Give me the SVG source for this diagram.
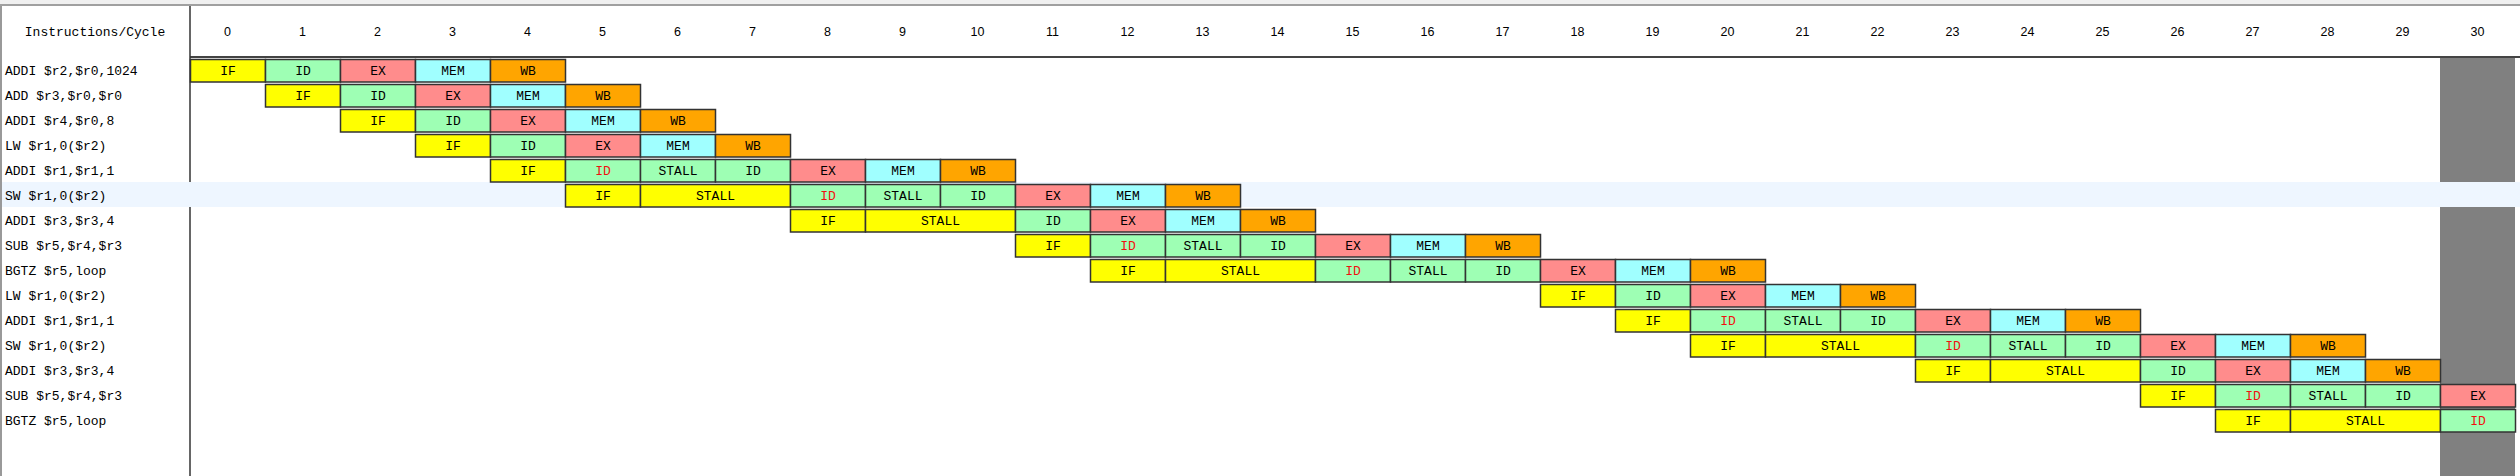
<svg xmlns="http://www.w3.org/2000/svg" width="2520" height="476" viewBox="0 0 2520 476">
<style>
.c rect{stroke:#333;stroke-width:1.5}
.IF{fill:#ffff00}.ID{fill:#9effb4}.EX{fill:#ff8c8c}.MEM{fill:#a0ffff}.WB{fill:#ffa500}
.c text{font-family:"Liberation Mono","DejaVu Sans Mono",monospace;font-size:13px;fill:#000;text-anchor:middle}
.c text.red{fill:#f01010}
.lbl{font-family:"Liberation Mono","DejaVu Sans Mono",monospace;font-size:13px;fill:#000}
.num{font-family:"Liberation Sans",Arial,sans-serif;font-size:12.5px;fill:#000;text-anchor:middle}
</style>
<rect x="0" y="0" width="2520" height="476" fill="#ffffff"/>
<rect x="0" y="0" width="2520" height="5" fill="#f0f0f0"/>
<line x1="0" y1="5" x2="2520" y2="5" stroke="#a0a0a0" stroke-width="2"/>
<rect x="2440" y="57" width="75" height="419" fill="#808080"/>
<line x1="190" y1="57" x2="2520" y2="57" stroke="#444" stroke-width="2"/>
<line x1="190" y1="6" x2="190" y2="476" stroke="#333" stroke-width="1.5"/>
<rect x="0" y="182" width="2520" height="25" fill="#eef6ff"/>
<line x1="1" y1="6" x2="1" y2="476" stroke="#999" stroke-width="2"/>
<g id="header">
<text class="lbl" x="95" y="35.5" text-anchor="middle">Instructions/Cycle</text>
<text class="num" y="35.5"><tspan x="227.5">0</tspan></text>
<text class="num" x="302.5" y="35.5">1</text>
<text class="num" x="377.5" y="35.5">2</text>
<text class="num" x="452.5" y="35.5">3</text>
<text class="num" x="527.5" y="35.5">4</text>
<text class="num" x="602.5" y="35.5">5</text>
<text class="num" x="677.5" y="35.5">6</text>
<text class="num" x="752.5" y="35.5">7</text>
<text class="num" x="827.5" y="35.5">8</text>
<text class="num" x="902.5" y="35.5">9</text>
<text class="num" x="977.5" y="35.5">10</text>
<text class="num" x="1052.5" y="35.5">11</text>
<text class="num" x="1127.5" y="35.5">12</text>
<text class="num" x="1202.5" y="35.5">13</text>
<text class="num" x="1277.5" y="35.5">14</text>
<text class="num" x="1352.5" y="35.5">15</text>
<text class="num" x="1427.5" y="35.5">16</text>
<text class="num" x="1502.5" y="35.5">17</text>
<text class="num" x="1577.5" y="35.5">18</text>
<text class="num" x="1652.5" y="35.5">19</text>
<text class="num" x="1727.5" y="35.5">20</text>
<text class="num" x="1802.5" y="35.5">21</text>
<text class="num" x="1877.5" y="35.5">22</text>
<text class="num" x="1952.5" y="35.5">23</text>
<text class="num" x="2027.5" y="35.5">24</text>
<text class="num" x="2102.5" y="35.5">25</text>
<text class="num" x="2177.5" y="35.5">26</text>
<text class="num" x="2252.5" y="35.5">27</text>
<text class="num" x="2327.5" y="35.5">28</text>
<text class="num" x="2402.5" y="35.5">29</text>
<text class="num" x="2477.5" y="35.5">30</text>
</g>
<g id="labels">
<text class="lbl" x="5" y="74.5">ADDI $r2,$r0,1024</text>
<text class="lbl" x="5" y="99.5">ADD $r3,$r0,$r0</text>
<text class="lbl" x="5" y="124.5">ADDI $r4,$r0,8</text>
<text class="lbl" x="5" y="149.5">LW $r1,0($r2)</text>
<text class="lbl" x="5" y="174.5">ADDI $r1,$r1,1</text>
<text class="lbl" x="5" y="199.5">SW $r1,0($r2)</text>
<text class="lbl" x="5" y="224.5">ADDI $r3,$r3,4</text>
<text class="lbl" x="5" y="249.5">SUB $r5,$r4,$r3</text>
<text class="lbl" x="5" y="274.5">BGTZ $r5,loop</text>
<text class="lbl" x="5" y="299.5">LW $r1,0($r2)</text>
<text class="lbl" x="5" y="324.5">ADDI $r1,$r1,1</text>
<text class="lbl" x="5" y="349.5">SW $r1,0($r2)</text>
<text class="lbl" x="5" y="374.5">ADDI $r3,$r3,4</text>
<text class="lbl" x="5" y="399.5">SUB $r5,$r4,$r3</text>
<text class="lbl" x="5" y="424.5">BGTZ $r5,loop</text>
</g>
<g id="row0" class="c">
<g id="r0c0" transform="translate(190.5,59.5)"><rect class="IF" width="75" height="22.5"/><text x="37.5" y="15">IF</text></g>
<g id="r0c1" transform="translate(265.5,59.5)"><rect class="ID" width="75" height="22.5"/><text x="37.5" y="15">ID</text></g>
<g id="r0c2" transform="translate(340.5,59.5)"><rect class="EX" width="75" height="22.5"/><text x="37.5" y="15">EX</text></g>
<g id="r0c3" transform="translate(415.5,59.5)"><rect class="MEM" width="75" height="22.5"/><text x="37.5" y="15">MEM</text></g>
<g id="r0c4" transform="translate(490.5,59.5)"><rect class="WB" width="75" height="22.5"/><text x="37.5" y="15">WB</text></g>
</g>
<g id="row1" class="c">
<g id="r1c1" transform="translate(265.5,84.5)"><rect class="IF" width="75" height="22.5"/><text x="37.5" y="15">IF</text></g>
<g id="r1c2" transform="translate(340.5,84.5)"><rect class="ID" width="75" height="22.5"/><text x="37.5" y="15">ID</text></g>
<g id="r1c3" transform="translate(415.5,84.5)"><rect class="EX" width="75" height="22.5"/><text x="37.5" y="15">EX</text></g>
<g id="r1c4" transform="translate(490.5,84.5)"><rect class="MEM" width="75" height="22.5"/><text x="37.5" y="15">MEM</text></g>
<g id="r1c5" transform="translate(565.5,84.5)"><rect class="WB" width="75" height="22.5"/><text x="37.5" y="15">WB</text></g>
</g>
<g id="row2" class="c">
<g id="r2c2" transform="translate(340.5,109.5)"><rect class="IF" width="75" height="22.5"/><text x="37.5" y="15">IF</text></g>
<g id="r2c3" transform="translate(415.5,109.5)"><rect class="ID" width="75" height="22.5"/><text x="37.5" y="15">ID</text></g>
<g id="r2c4" transform="translate(490.5,109.5)"><rect class="EX" width="75" height="22.5"/><text x="37.5" y="15">EX</text></g>
<g id="r2c5" transform="translate(565.5,109.5)"><rect class="MEM" width="75" height="22.5"/><text x="37.5" y="15">MEM</text></g>
<g id="r2c6" transform="translate(640.5,109.5)"><rect class="WB" width="75" height="22.5"/><text x="37.5" y="15">WB</text></g>
</g>
<g id="row3" class="c">
<g id="r3c3" transform="translate(415.5,134.5)"><rect class="IF" width="75" height="22.5"/><text x="37.5" y="15">IF</text></g>
<g id="r3c4" transform="translate(490.5,134.5)"><rect class="ID" width="75" height="22.5"/><text x="37.5" y="15">ID</text></g>
<g id="r3c5" transform="translate(565.5,134.5)"><rect class="EX" width="75" height="22.5"/><text x="37.5" y="15">EX</text></g>
<g id="r3c6" transform="translate(640.5,134.5)"><rect class="MEM" width="75" height="22.5"/><text x="37.5" y="15">MEM</text></g>
<g id="r3c7" transform="translate(715.5,134.5)"><rect class="WB" width="75" height="22.5"/><text x="37.5" y="15">WB</text></g>
</g>
<g id="row4" class="c">
<g id="r4c4" transform="translate(490.5,159.5)"><rect class="IF" width="75" height="22.5"/><text x="37.5" y="15">IF</text></g>
<g id="r4c5" transform="translate(565.5,159.5)"><rect class="ID" width="75" height="22.5"/><text class="red" x="37.5" y="15">ID</text></g>
<g id="r4c6" transform="translate(640.5,159.5)"><rect class="ID" width="75" height="22.5"/><text x="37.5" y="15">STALL</text></g>
<g id="r4c7" transform="translate(715.5,159.5)"><rect class="ID" width="75" height="22.5"/><text x="37.5" y="15">ID</text></g>
<g id="r4c8" transform="translate(790.5,159.5)"><rect class="EX" width="75" height="22.5"/><text x="37.5" y="15">EX</text></g>
<g id="r4c9" transform="translate(865.5,159.5)"><rect class="MEM" width="75" height="22.5"/><text x="37.5" y="15">MEM</text></g>
<g id="r4c10" transform="translate(940.5,159.5)"><rect class="WB" width="75" height="22.5"/><text x="37.5" y="15">WB</text></g>
</g>
<g id="row5" class="c">
<g id="r5c5" transform="translate(565.5,184.5)"><rect class="IF" width="75" height="22.5"/><text x="37.5" y="15">IF</text></g>
<g id="r5c6" transform="translate(640.5,184.5)"><rect class="IF" width="150" height="22.5"/><text x="75" y="15">STALL</text></g>
<g id="r5c8" transform="translate(790.5,184.5)"><rect class="ID" width="75" height="22.5"/><text class="red" x="37.5" y="15">ID</text></g>
<g id="r5c9" transform="translate(865.5,184.5)"><rect class="ID" width="75" height="22.5"/><text x="37.5" y="15">STALL</text></g>
<g id="r5c10" transform="translate(940.5,184.5)"><rect class="ID" width="75" height="22.5"/><text x="37.5" y="15">ID</text></g>
<g id="r5c11" transform="translate(1015.5,184.5)"><rect class="EX" width="75" height="22.5"/><text x="37.5" y="15">EX</text></g>
<g id="r5c12" transform="translate(1090.5,184.5)"><rect class="MEM" width="75" height="22.5"/><text x="37.5" y="15">MEM</text></g>
<g id="r5c13" transform="translate(1165.5,184.5)"><rect class="WB" width="75" height="22.5"/><text x="37.5" y="15">WB</text></g>
</g>
<g id="row6" class="c">
<g id="r6c8" transform="translate(790.5,209.5)"><rect class="IF" width="75" height="22.5"/><text x="37.5" y="15">IF</text></g>
<g id="r6c9" transform="translate(865.5,209.5)"><rect class="IF" width="150" height="22.5"/><text x="75" y="15">STALL</text></g>
<g id="r6c11" transform="translate(1015.5,209.5)"><rect class="ID" width="75" height="22.5"/><text x="37.5" y="15">ID</text></g>
<g id="r6c12" transform="translate(1090.5,209.5)"><rect class="EX" width="75" height="22.5"/><text x="37.5" y="15">EX</text></g>
<g id="r6c13" transform="translate(1165.5,209.5)"><rect class="MEM" width="75" height="22.5"/><text x="37.5" y="15">MEM</text></g>
<g id="r6c14" transform="translate(1240.5,209.5)"><rect class="WB" width="75" height="22.5"/><text x="37.5" y="15">WB</text></g>
</g>
<g id="row7" class="c">
<g id="r7c11" transform="translate(1015.5,234.5)"><rect class="IF" width="75" height="22.5"/><text x="37.5" y="15">IF</text></g>
<g id="r7c12" transform="translate(1090.5,234.5)"><rect class="ID" width="75" height="22.5"/><text class="red" x="37.5" y="15">ID</text></g>
<g id="r7c13" transform="translate(1165.5,234.5)"><rect class="ID" width="75" height="22.5"/><text x="37.5" y="15">STALL</text></g>
<g id="r7c14" transform="translate(1240.5,234.5)"><rect class="ID" width="75" height="22.5"/><text x="37.5" y="15">ID</text></g>
<g id="r7c15" transform="translate(1315.5,234.5)"><rect class="EX" width="75" height="22.5"/><text x="37.5" y="15">EX</text></g>
<g id="r7c16" transform="translate(1390.5,234.5)"><rect class="MEM" width="75" height="22.5"/><text x="37.5" y="15">MEM</text></g>
<g id="r7c17" transform="translate(1465.5,234.5)"><rect class="WB" width="75" height="22.5"/><text x="37.5" y="15">WB</text></g>
</g>
<g id="row8" class="c">
<g id="r8c12" transform="translate(1090.5,259.5)"><rect class="IF" width="75" height="22.5"/><text x="37.5" y="15">IF</text></g>
<g id="r8c13" transform="translate(1165.5,259.5)"><rect class="IF" width="150" height="22.5"/><text x="75" y="15">STALL</text></g>
<g id="r8c15" transform="translate(1315.5,259.5)"><rect class="ID" width="75" height="22.5"/><text class="red" x="37.5" y="15">ID</text></g>
<g id="r8c16" transform="translate(1390.5,259.5)"><rect class="ID" width="75" height="22.5"/><text x="37.5" y="15">STALL</text></g>
<g id="r8c17" transform="translate(1465.5,259.5)"><rect class="ID" width="75" height="22.5"/><text x="37.5" y="15">ID</text></g>
<g id="r8c18" transform="translate(1540.5,259.5)"><rect class="EX" width="75" height="22.5"/><text x="37.5" y="15">EX</text></g>
<g id="r8c19" transform="translate(1615.5,259.5)"><rect class="MEM" width="75" height="22.5"/><text x="37.5" y="15">MEM</text></g>
<g id="r8c20" transform="translate(1690.5,259.5)"><rect class="WB" width="75" height="22.5"/><text x="37.5" y="15">WB</text></g>
</g>
<g id="row9" class="c">
<g id="r9c18" transform="translate(1540.5,284.5)"><rect class="IF" width="75" height="22.5"/><text x="37.5" y="15">IF</text></g>
<g id="r9c19" transform="translate(1615.5,284.5)"><rect class="ID" width="75" height="22.5"/><text x="37.5" y="15">ID</text></g>
<g id="r9c20" transform="translate(1690.5,284.5)"><rect class="EX" width="75" height="22.5"/><text x="37.5" y="15">EX</text></g>
<g id="r9c21" transform="translate(1765.5,284.5)"><rect class="MEM" width="75" height="22.5"/><text x="37.5" y="15">MEM</text></g>
<g id="r9c22" transform="translate(1840.5,284.5)"><rect class="WB" width="75" height="22.5"/><text x="37.5" y="15">WB</text></g>
</g>
<g id="row10" class="c">
<g id="r10c19" transform="translate(1615.5,309.5)"><rect class="IF" width="75" height="22.5"/><text x="37.5" y="15">IF</text></g>
<g id="r10c20" transform="translate(1690.5,309.5)"><rect class="ID" width="75" height="22.5"/><text class="red" x="37.5" y="15">ID</text></g>
<g id="r10c21" transform="translate(1765.5,309.5)"><rect class="ID" width="75" height="22.5"/><text x="37.5" y="15">STALL</text></g>
<g id="r10c22" transform="translate(1840.5,309.5)"><rect class="ID" width="75" height="22.5"/><text x="37.5" y="15">ID</text></g>
<g id="r10c23" transform="translate(1915.5,309.5)"><rect class="EX" width="75" height="22.5"/><text x="37.5" y="15">EX</text></g>
<g id="r10c24" transform="translate(1990.5,309.5)"><rect class="MEM" width="75" height="22.5"/><text x="37.5" y="15">MEM</text></g>
<g id="r10c25" transform="translate(2065.5,309.5)"><rect class="WB" width="75" height="22.5"/><text x="37.5" y="15">WB</text></g>
</g>
<g id="row11" class="c">
<g id="r11c20" transform="translate(1690.5,334.5)"><rect class="IF" width="75" height="22.5"/><text x="37.5" y="15">IF</text></g>
<g id="r11c21" transform="translate(1765.5,334.5)"><rect class="IF" width="150" height="22.5"/><text x="75" y="15">STALL</text></g>
<g id="r11c23" transform="translate(1915.5,334.5)"><rect class="ID" width="75" height="22.5"/><text class="red" x="37.5" y="15">ID</text></g>
<g id="r11c24" transform="translate(1990.5,334.5)"><rect class="ID" width="75" height="22.5"/><text x="37.5" y="15">STALL</text></g>
<g id="r11c25" transform="translate(2065.5,334.5)"><rect class="ID" width="75" height="22.5"/><text x="37.5" y="15">ID</text></g>
<g id="r11c26" transform="translate(2140.5,334.5)"><rect class="EX" width="75" height="22.5"/><text x="37.5" y="15">EX</text></g>
<g id="r11c27" transform="translate(2215.5,334.5)"><rect class="MEM" width="75" height="22.5"/><text x="37.5" y="15">MEM</text></g>
<g id="r11c28" transform="translate(2290.5,334.5)"><rect class="WB" width="75" height="22.5"/><text x="37.5" y="15">WB</text></g>
</g>
<g id="row12" class="c">
<g id="r12c23" transform="translate(1915.5,359.5)"><rect class="IF" width="75" height="22.5"/><text x="37.5" y="15">IF</text></g>
<g id="r12c24" transform="translate(1990.5,359.5)"><rect class="IF" width="150" height="22.5"/><text x="75" y="15">STALL</text></g>
<g id="r12c26" transform="translate(2140.5,359.5)"><rect class="ID" width="75" height="22.5"/><text x="37.5" y="15">ID</text></g>
<g id="r12c27" transform="translate(2215.5,359.5)"><rect class="EX" width="75" height="22.5"/><text x="37.5" y="15">EX</text></g>
<g id="r12c28" transform="translate(2290.5,359.5)"><rect class="MEM" width="75" height="22.5"/><text x="37.5" y="15">MEM</text></g>
<g id="r12c29" transform="translate(2365.5,359.5)"><rect class="WB" width="75" height="22.5"/><text x="37.5" y="15">WB</text></g>
</g>
<g id="row13" class="c">
<g id="r13c26" transform="translate(2140.5,384.5)"><rect class="IF" width="75" height="22.5"/><text x="37.5" y="15">IF</text></g>
<g id="r13c27" transform="translate(2215.5,384.5)"><rect class="ID" width="75" height="22.5"/><text class="red" x="37.5" y="15">ID</text></g>
<g id="r13c28" transform="translate(2290.5,384.5)"><rect class="ID" width="75" height="22.5"/><text x="37.5" y="15">STALL</text></g>
<g id="r13c29" transform="translate(2365.5,384.5)"><rect class="ID" width="75" height="22.5"/><text x="37.5" y="15">ID</text></g>
<g id="r13c30" transform="translate(2440.5,384.5)"><rect class="EX" width="75" height="22.5"/><text x="37.5" y="15">EX</text></g>
</g>
<g id="row14" class="c">
<g id="r14c27" transform="translate(2215.5,409.5)"><rect class="IF" width="75" height="22.5"/><text x="37.5" y="15">IF</text></g>
<g id="r14c28" transform="translate(2290.5,409.5)"><rect class="IF" width="150" height="22.5"/><text x="75" y="15">STALL</text></g>
<g id="r14c30" transform="translate(2440.5,409.5)"><rect class="ID" width="75" height="22.5"/><text class="red" x="37.5" y="15">ID</text></g>
</g>
</svg>
